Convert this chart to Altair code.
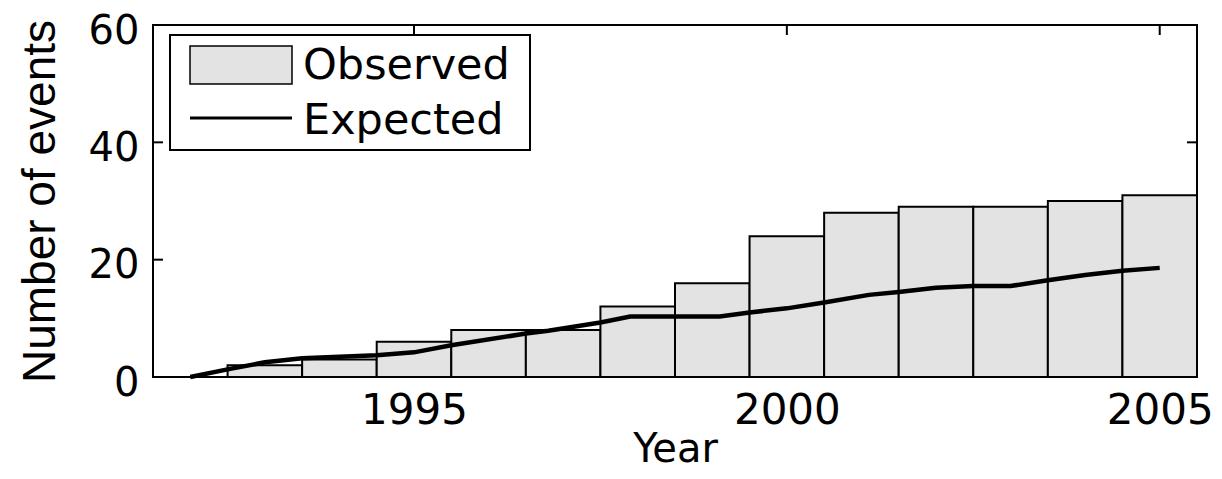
import altair as alt
import pandas as pd

# ---- data ----
years = [1993, 1994, 1995, 1996, 1997, 1998, 1999, 2000, 2001, 2002, 2003, 2004, 2005]
observed = [2, 3, 6, 8, 8, 12, 16, 24, 28, 29, 29, 30, 31]

exp_years = [1992.0, 1992.5, 1993.0, 1993.5, 1994.5, 1995.0, 1995.5, 1996.5, 1996.8,
             1997.5, 1997.9, 1998.5, 1999.1, 1999.5, 2000.0, 2000.5, 2001.1, 2001.5,
             2002.0, 2002.5, 2003.0, 2003.5, 2004.0, 2004.5, 2005.0]
exp_values = [0, 1.3, 2.5, 3.2, 3.7, 4.2, 5.4, 7.4, 7.9,
              9.3, 10.3, 10.3, 10.3, 11.0, 11.7, 12.7, 14.0, 14.5,
              15.2, 15.5, 15.5, 16.5, 17.4, 18.1, 18.6]

x_ticks = [1995, 2000, 2005]
y_ticks = [0, 20, 40, 60]
legend_labels = ["Observed", "Expected"]

# ---- layout ----
W, H = 1044, 352
FONT = "DejaVu Sans"
TFONT = "Liberation Sans"
BAR_FILL = "#e3e3e3"
TICK = 10

bars_df = pd.DataFrame({"year": years, "observed": observed})
exp_df = pd.DataFrame({"year": exp_years, "expected": exp_values})
xt_df = pd.DataFrame({"t": x_ticks})
yt_df = pd.DataFrame({"t": y_ticks})
one = pd.DataFrame({"k": [0]})

xscale = alt.Scale(domain=[1991.5, 2005.5], nice=False, zero=False)
yscale = alt.Scale(domain=[0, 60], nice=False)

x_axis = alt.Axis(values=x_ticks, format="d", title="Year", grid=False, ticks=False,
                  tickSize=0, domain=False, labelFont=FONT, labelFontSize=42,
                  labelColor="black", labelBaseline="alphabetic", labelPadding=46,
                  labelFlush=False, labelOverlap=False,
                  titleFont=FONT, titleFontSize=40, titleFontWeight="normal",
                  titleColor="black", titleBaseline="alphabetic", titleX=W / 2,
                  titleY=84, titleAlign="center")
y_axis = alt.Axis(values=y_ticks, title="Number of events", grid=False, ticks=False,
                  tickSize=0, domain=False, labelFont=FONT, labelFontSize=40,
                  labelColor="black", labelPadding=14, labelFlush=False,
                  labelOffset=6,
                  titleFont=TFONT, titleFontSize=46, titleFontWeight="normal",
                  titleColor="black", titleAngle=270, titleBaseline="alphabetic",
                  titleX=-99, titleY=H / 2, titleAlign="center")

# inward ticks (drawn first so the bars cover them, as in the reference)
top_ticks = alt.Chart(xt_df).mark_rule(color="black", strokeWidth=2).encode(
    x=alt.X("t:Q", scale=xscale, axis=x_axis), y=alt.value(0), y2=alt.value(TICK))
bot_ticks = alt.Chart(xt_df).mark_rule(color="black", strokeWidth=2).encode(
    x=alt.X("t:Q", scale=xscale), y=alt.value(H - TICK), y2=alt.value(H))
left_ticks = alt.Chart(yt_df).mark_rule(color="black", strokeWidth=2).encode(
    y=alt.Y("t:Q", scale=yscale, axis=y_axis), x=alt.value(0), x2=alt.value(TICK))
right_ticks = alt.Chart(yt_df).mark_rule(color="black", strokeWidth=2).encode(
    y=alt.Y("t:Q", scale=yscale), x=alt.value(W - TICK), x2=alt.value(W))

bars = alt.Chart(bars_df).transform_calculate(
    x0="datum.year - 0.5", x1="datum.year + 0.5", base="0"
).mark_rect(fill=BAR_FILL, stroke="black", strokeWidth=2).encode(
    x=alt.X("x0:Q", scale=xscale),
    x2="x1:Q",
    y=alt.Y("observed:Q", scale=yscale),
    y2="base:Q",
)

line = alt.Chart(exp_df).mark_line(color="black", strokeWidth=4.5).encode(
    x=alt.X("year:Q", scale=xscale),
    y=alt.Y("expected:Q", scale=yscale),
)

# legend box (MATLAB style)
leg_box = alt.Chart(one).mark_rect(fill="white", stroke="black", strokeWidth=2).encode(
    x=alt.value(17), x2=alt.value(377), y=alt.value(10), y2=alt.value(125))
leg_swatch = alt.Chart(one).mark_rect(fill=BAR_FILL, stroke="black", strokeWidth=1.5).encode(
    x=alt.value(37), x2=alt.value(139), y=alt.value(21), y2=alt.value(59))
leg_line = alt.Chart(one).mark_rule(color="black", strokeWidth=3).encode(
    x=alt.value(37), x2=alt.value(139), y=alt.value(93))
leg_text1 = alt.Chart(one).mark_text(align="left", baseline="middle", font=FONT,
                                     fontSize=43, color="black",
                                     text=legend_labels[0]).encode(
    x=alt.value(150), y=alt.value(41))
leg_text2 = alt.Chart(one).mark_text(align="left", baseline="middle", font=FONT,
                                     fontSize=43, color="black",
                                     text=legend_labels[1]).encode(
    x=alt.value(150), y=alt.value(96))

chart = alt.layer(
    top_ticks, bot_ticks, left_ticks, right_ticks, bars, line,
    leg_box, leg_swatch, leg_line, leg_text1, leg_text2,
).properties(
    width=W, height=H,
    autosize=alt.AutoSizeParams(type="none"),
    padding={"left": 145, "top": 17, "right": 17, "bottom": 94},
    background="white",
).configure_view(stroke="black", strokeWidth=2)

chart.save("out.html", embed_options={"renderer": "svg", "actions": False})
